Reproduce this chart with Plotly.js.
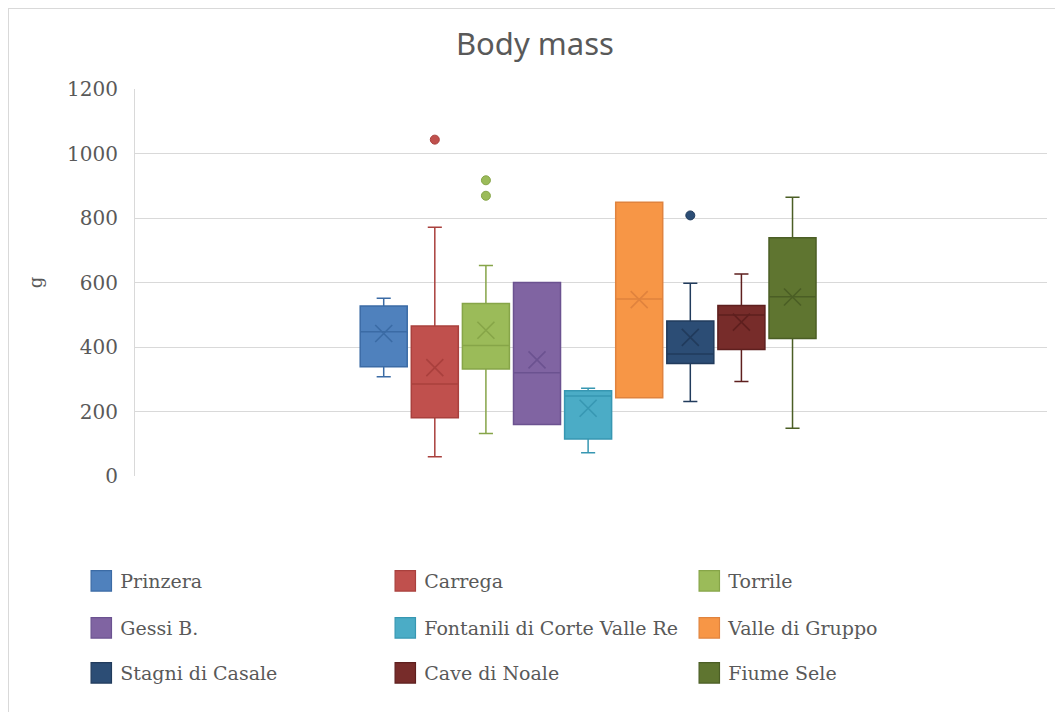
<!DOCTYPE html>
<html><head><meta charset="utf-8">
<script src="https://cdn.plot.ly/plotly-3.0.1.min.js"></script>
<style>
html,body{margin:0;padding:0;overflow:hidden;background:#fff}
#frame{position:absolute;left:8px;top:8px;width:1200px;height:900px;border-left:1px solid #d9d9d9;border-top:1px solid #d9d9d9;pointer-events:none}
#chart{position:absolute;left:0;top:0;width:1055px;height:712px}
</style></head>
<body><div id="frame"></div><div id="chart"></div>
<script>
const sites = ["Prinzera", "Carrega", "Torrile", "Gessi B.", "Fontanili di Corte Valle Re",
  "Valle di Gruppo", "Stagni di Casale", "Cave di Noale", "Fiume Sele"];
const q1 = [339, 181, 332, 160, 115, 243, 349, 392, 426];
const median = [447, 285, 405, 320, 248, 549, 378, 499, 556];
const q3 = [527, 465, 535, 600, 264, 849, 481, 529, 739];
const lowerFence = [308, 60, 132, 160, 72, 243, 231, 293, 148];
const upperFence = [551, 771, 653, 600, 272, 849, 598, 626, 864];
const means = [442, 336, 452, 360, 210, 547, 430, 477, 555];
const outlierSite = ["Carrega", "Torrile", "Torrile", "Stagni di Casale"];
const outlierValue = [1043, 917, 869, 808];
const fillColors = ["#4F81BD", "#C0504D", "#9BBB59", "#8064A2", "#4BACC6", "#F79646", "#2C4D75", "#772C2A", "#5F7530"];
const lineColors = ["#3B6BA5", "#A9403D", "#86A548", "#6B5290", "#3797B2", "#E0833E", "#213B5C", "#5E1F1E", "#4B5E25"];
const yTicks = [0, 200, 400, 600, 800, 1000, 1200];

const legendIds = ["legend", "legend2", "legend3"];
const traces = sites.map((s, i) => ({
  type: "box",
  name: s,
  x: [s],
  q1: [q1[i]], median: [median[i]], q3: [q3[i]],
  lowerfence: [lowerFence[i]], upperfence: [upperFence[i]],
  boxmean: false,
  width: 0.92,
  whiskerwidth: 0.3,
  fillcolor: fillColors[i],
  line: {color: lineColors[i], width: 1.5},
  legend: legendIds[Math.floor(i / 3)],
  hoverinfo: "skip"
}));

traces.push({
  type: "scatter", mode: "markers", x: sites, y: means, showlegend: false, hoverinfo: "skip",
  marker: {symbol: "x-thin-open", size: 17, color: lineColors, line: {width: 1.6, color: lineColors}}
});
traces.push({
  type: "scatter", mode: "markers", x: outlierSite, y: outlierValue, showlegend: false, hoverinfo: "skip",
  marker: {symbol: "circle", size: 9,
    color: outlierSite.map(s => fillColors[sites.indexOf(s)]),
    line: {width: 1, color: outlierSite.map(s => lineColors[sites.indexOf(s)])}}
});

const legFont = {family: "DejaVu Serif", size: 19, color: "#595959"};
function leg(y) {
  return {orientation: "h", x: -0.06, xanchor: "left", y: y, yanchor: "middle",
    entrywidth: 259, entrywidthmode: "pixels", font: legFont, bgcolor: "rgba(0,0,0,0)",
    itemclick: false, itemdoubleclick: false};
}

const layout = {
  width: 1055, height: 712,
  margin: {l: 135, r: 8, t: 89, b: 236},
  paper_bgcolor: "rgba(0,0,0,0)", plot_bgcolor: "rgba(0,0,0,0)",
  boxmode: "overlay",
  title: {text: "Body mass", font: {family: "Noto Sans", size: 31, color: "#595959"},
    xref: "container", x: 0.507, xanchor: "center", yref: "container", y: 1 - 44 / 712, yanchor: "middle"},
  xaxis: {type: "category", categoryorder: "array", categoryarray: sites,
    range: [-4.867, 12.98], showticklabels: false, showgrid: false, zeroline: false,
    showline: false, ticks: "", fixedrange: true},
  yaxis: {range: [0, 1200], tickvals: yTicks, ticktext: yTicks.map(String),
    showgrid: true, gridcolor: "#d9d9d9", gridwidth: 1, zeroline: false,
    showline: true, linecolor: "#d9d9d9", linewidth: 1, ticks: "",
    ticklabelstandoff: 12,
    tickfont: {family: "DejaVu Serif", size: 20, color: "#595959"},
    title: {text: "g", font: {family: "DejaVu Serif", size: 18, color: "#595959"}, standoff: 19},
    fixedrange: true},
  legend: leg((476 - 581) / 387),
  legend2: leg((476 - 628) / 387),
  legend3: leg((476 - 673) / 387),
  hovermode: false
};

Plotly.newPlot("chart", traces, layout, {displayModeBar: false, staticPlot: true}).then(gd => {
  gd.querySelectorAll(".legendpoints path").forEach(p => {
    p.setAttribute("transform", "translate(21,0) scale(1.7)");
    p.style.strokeWidth = "0.7px";
  });
});
</script>
</body></html>
